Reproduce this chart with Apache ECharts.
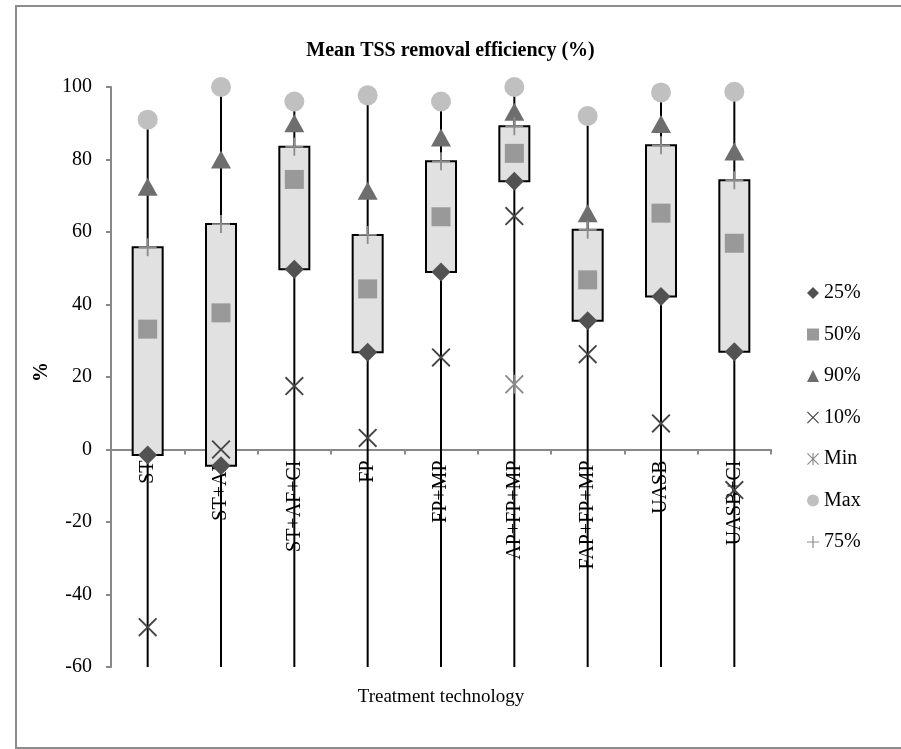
<!DOCTYPE html>
<html>
<head>
<meta charset="utf-8">
<script src="https://cdn.jsdelivr.net/npm/echarts@6/dist/echarts.min.js"></script>
<style>
html,body{margin:0;padding:0;background:#fff;}
#chart{width:901px;height:749px;}
</style>
</head>
<body>
<div id="chart"></div>
<script>
// ---- data ----
var categories = ['ST','ST+AF','ST+AF+CI','FP','FP+MP','AP+FP+MP','FAP+FP+MP','UASB','UASB+CI'];
var p25  = [-1.5, -4.5, 49.7, 26.8, 49.0, 74.0, 35.5, 42.2, 27.0];
var p50  = [33.2, 37.7, 74.5, 44.3, 64.2, 81.7, 46.8, 65.2, 56.9];
var p90  = [72.5, 80.0, 90.0, 71.4, 86.1, 93.2, 65.2, 89.8, 82.2];
var p10  = [-49.0, 0.0, 17.5, 3.2, 25.4, 64.4, 26.3, 7.2, -11.2];
var pMin = [null, null, null, null, null, 18.0, null, null, null];
var pMax = [91.0, 100.0, 96.0, 97.7, 96.0, 100.0, 92.0, 98.5, 98.7];
var p75  = [55.8, 62.2, 83.5, 59.2, 79.5, 89.2, 60.6, 83.9, 74.3];
var yTicks = {min: -60, max: 100, interval: 20};

var FONT = 'Liberation Serif';
var W = 901, H = 749;
var GRID = {left: 111, right: 130, top: 87, bottom: 82};
// category axis sits at y = 0 (moved up from the grid bottom)
var plotH = H - GRID.top - GRID.bottom;
var zeroOffset = -((0 - yTicks.min) / (yTicks.max - yTicks.min)) * plotH;

var X_PATH = 'path://M0,1.4L1.4,0L10,8.6L18.6,0L20,1.4L11.4,10L20,18.6L18.6,20L10,11.4L1.4,20L0,18.6L8.6,10Z';
var STAR_PATH = 'path://M0,1.4L1.4,0L10,8.6L18.6,0L20,1.4L11.4,10L20,18.6L18.6,20L10,11.4L1.4,20L0,18.6L8.6,10Z M9,0L11,0L11,20L9,20Z';
var PLUS_PATH = 'path://M9,0L11,0L11,9L20,9L20,11L11,11L11,20L9,20L9,11L0,11L0,9L9,9Z';

var chart = echarts.init(document.getElementById('chart'));

function whisker(params, api) {
  var i = api.value(0);
  var top = api.coord([i, api.value(1)]);
  var bot = api.coord([i, yTicks.min]);
  return {type: 'line', shape: {x1: top[0], y1: top[1], x2: bot[0], y2: bot[1]},
          style: {stroke: '#000', lineWidth: 2}};
}
function box(params, api) {
  var i = api.value(0);
  var lo = api.coord([i, api.value(1)]);
  var hi = api.coord([i, api.value(2)]);
  var w = 30;
  return {type: 'rect', shape: {x: lo[0] - w / 2, y: hi[1], width: w, height: lo[1] - hi[1]},
          style: {fill: '#e1e1e1', stroke: '#000', lineWidth: 2}};
}

function scat(name, data, symbol, size, color) {
  return {name: name, type: 'scatter', data: data, symbol: symbol, symbolSize: size,
          itemStyle: {color: color, opacity: 1}, z: 5, silent: true};
}

var option = {
  animation: false,
  backgroundColor: '#fff',
  textStyle: {fontFamily: FONT},
  title: [
    {text: 'Mean TSS removal efficiency (%)', left: 'center', top: 41, padding: 0,
     textStyle: {fontFamily: FONT, fontSize: 20, fontWeight: 'bold', color: '#000'}},
    {text: 'Treatment technology', left: 441, textAlign: 'center', top: 688, padding: 0,
     textStyle: {fontFamily: FONT, fontSize: 19, fontWeight: 'normal', color: '#000'}}
  ],
  graphic: [
    {type: 'rect', shape: {x: 16, y: 6, width: 900, height: 742}, silent: true, z: -10,
     style: {fill: 'none', stroke: '#8c8c8c', lineWidth: 2}},
    {type: 'text', x: 42, y: GRID.top + plotH / 2 - 5, rotation: Math.PI / 2, silent: true,
     style: {text: '%', fill: '#000', font: 'bold 20px "Liberation Serif"',
             align: 'center', verticalAlign: 'middle'}}
  ],
  legend: {
    orient: 'vertical', left: 802, top: 278,
    itemWidth: 12, itemHeight: 12, itemGap: 21.5,
    textStyle: {fontFamily: FONT, fontSize: 20, lineHeight: 20, color: '#000'},
    data: [
      {name: '25%', icon: 'diamond'},
      {name: '50%', icon: 'rect'},
      {name: '90%', icon: 'triangle'},
      {name: '10%', icon: X_PATH},
      {name: 'Min', icon: STAR_PATH},
      {name: 'Max', icon: 'circle'},
      {name: '75%', icon: PLUS_PATH}
    ]
  },
  grid: {left: GRID.left, right: GRID.right, top: GRID.top, bottom: GRID.bottom,
         containLabel: false, outerBoundsMode: 'none'},
  xAxis: {
    type: 'category', data: categories, position: 'bottom', offset: zeroOffset,
    axisLine: {onZero: false, lineStyle: {color: '#888', width: 2}},
    axisTick: {show: true, length: 5, lineStyle: {color: '#888', width: 2}},
    axisLabel: {rotate: 90, interval: 0, margin: 11, fontFamily: FONT, fontSize: 20, color: '#000'},
    splitLine: {show: false}
  },
  yAxis: {
    type: 'value', min: yTicks.min, max: yTicks.max, interval: yTicks.interval,
    axisLine: {show: true, lineStyle: {color: '#888', width: 2}},
    axisTick: {show: true, length: 5, lineStyle: {color: '#888', width: 2}},
    axisLabel: {margin: 19, fontFamily: FONT, fontSize: 20, color: '#000'},
    splitLine: {show: false}
  },
  series: [
    {type: 'custom', name: 'range', renderItem: whisker, z: 2, silent: true,
     encode: {x: 0, y: 1},
     data: categories.map(function (c, i) { return [i, pMax[i]]; })},
    {type: 'custom', name: 'box', renderItem: box, z: 3, silent: true,
     encode: {x: 0, y: [1, 2]},
     data: categories.map(function (c, i) { return [i, p25[i], p75[i]]; })},
    scat('25%', p25, 'diamond', 19, '#525252'),
    scat('50%', p50, 'rect', 19, '#999999'),
    scat('90%', p90, 'triangle', [20, 18], '#6e6e6e'),
    scat('10%', p10, X_PATH, 19, '#454545'),
    scat('Min', pMin, STAR_PATH, 19, '#8a8a8a'),
    scat('Max', pMax, 'circle', 20, '#c0c0c0'),
    scat('75%', p75, PLUS_PATH, 18, '#8c8c8c')
  ]
};
chart.setOption(option);
</script>
</body>
</html>
